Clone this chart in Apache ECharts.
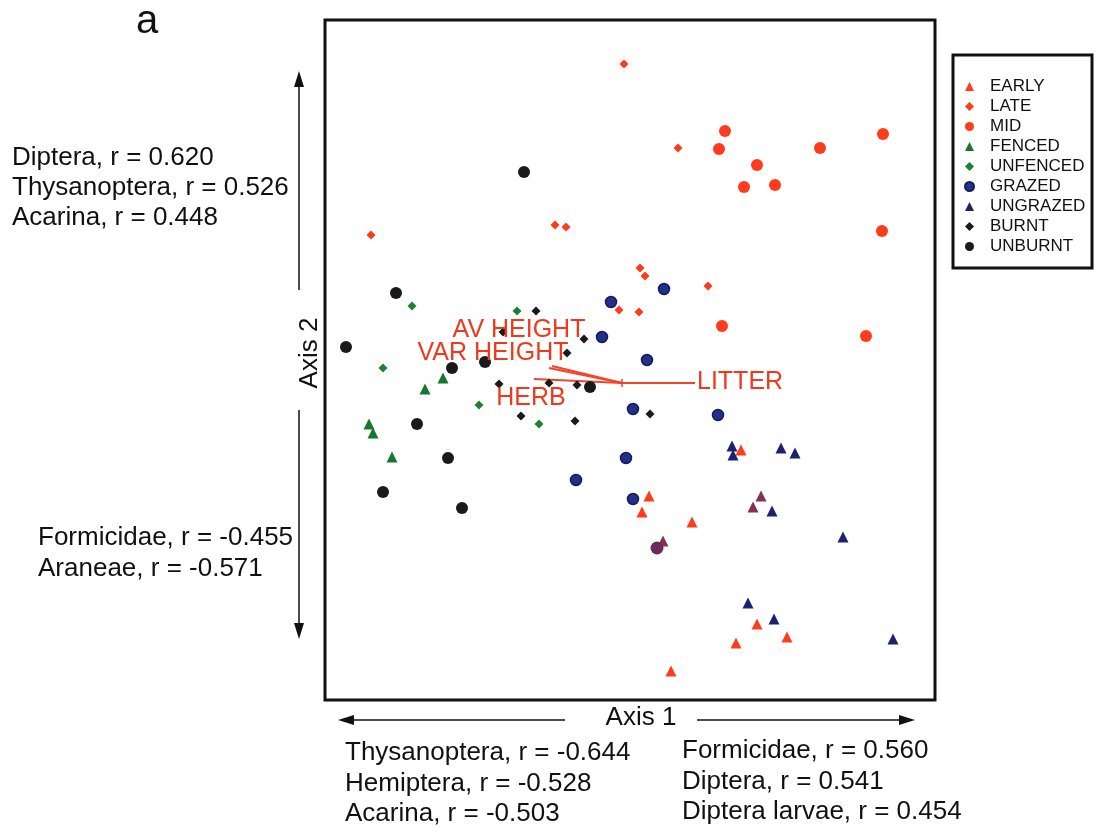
<!DOCTYPE html>
<html>
<head>
<meta charset="utf-8">
<script src="https://cdn.jsdelivr.net/npm/echarts@6/dist/echarts.min.js"></script>
<style>
html,body{margin:0;padding:0;background:#fff;}
#chart{width:1096px;height:833px;}
</style>
</head>
<body>
<div id="chart"></div>
<script>
// Ordination scores (Axis 1, Axis 2), arbitrary units
const EARLY = [[416,250],[324,204],[317,188],[367,178],[432,76],[462,63],[411,57],[346,29]];
const LATE = [[299,636],[353,552],[230,475],[241,473],[46,465],[315,432],[320,424],[383,414],[294,390],[314,388]];
const MID = [[400,569],[394,551],[432,535],[419,513],[450,515],[495,552],[558,566],[557,469],[397,374],[541,364]];
const FENCED = [[118,322],[100,311],[44,276],[48,267],[67,243]];
const UNFENCED = [[87,394],[192,389],[58,332],[154,295],[214,276]];
const GRAZED = [[286,398],[277,363],[339,411],[322,340],[308,291],[393,285],[301,242],[251,220],[308,201]];
const UNGRAZED = [[407,254],[408,245],[456,252],[470,247],[447,189],[518,163],[423,97],[449,81],[568,61]];
const BURNT = [[211,389],[178,368],[259,361],[242,347],[174,316],[224,317],[252,315],[325,286],[196,284],[250,279]];
const UNBURNT = [[199,528],[71,407],[21,353],[160,338],[127,332],[265,313],[92,276],[123,242],[58,208],[137,192]];
// overlapping (mixed colour) symbols
const OVERLAP_TRI = [[436,204],[428,193],[338,159]];
const OVERLAP_CIRC = [[332,152]];

// Environmental vectors (origin and tips)
const VEC_ORIGIN = [297,317];
const VECTORS = [
  {name:'LITTER', tip:[370,317]},
  {name:'AV HEIGHT', tip:[227,334]},
  {name:'VAR HEIGHT', tip:[224,332]},
  {name:'HERB', tip:[209,321]}
];
const VEC_LABELS = [
  {name:'AV HEIGHT', pos:[194,370]},
  {name:'VAR HEIGHT', pos:[168,347]},
  {name:'HERB', pos:[206,302]},
  {name:'LITTER', pos:[372,318]}
];
const ORIGIN_TICK = [[297,313],[297,321]];

const AXIS_X = {min:0, max:610};
const AXIS_Y = {min:0, max:680};

const LEFT_TOP_LABELS = ['Diptera, r = 0.620','Thysanoptera, r = 0.526','Acarina, r = 0.448'];
const LEFT_BOTTOM_LABELS = ['Formicidae, r = -0.455','Araneae, r = -0.571'];
const BOTTOM_LEFT_LABELS = ['Thysanoptera, r = -0.644','Hemiptera, r = -0.528','Acarina, r = -0.503'];
const BOTTOM_RIGHT_LABELS = ['Formicidae, r = 0.560','Diptera, r = 0.541','Diptera larvae, r = 0.454'];

const RED = '#ff3b1d';
const BLACK = '#1a1a1a';
const GREEN = '#17772a';
const FONT = '"Liberation Sans", Arial, Helvetica, sans-serif';

function sc(name, data, symbol, size, color, style) {
  return {
    name, type:'scatter', data, symbol, symbolSize:size,
    itemStyle:Object.assign({color, opacity:1}, style||{}), z:3,
    emphasis:{disabled:true}
  };
}

const series = [
  sc('EARLY', EARLY, 'triangle', 11, RED),
  sc('LATE', LATE, 'diamond', 9, RED),
  sc('MID', MID, 'circle', 12, RED),
  sc('FENCED', FENCED, 'triangle', 11, GREEN),
  sc('UNFENCED', UNFENCED, 'diamond', 9, '#1f8034'),
  sc('GRAZED', GRAZED, 'circle', 11, '#22308c', {borderColor:'#161b5c', borderWidth:1.5}),
  sc('UNGRAZED', UNGRAZED, 'triangle', 11, '#1b2270'),
  sc('BURNT', BURNT, 'diamond', 9, BLACK),
  sc('UNBURNT', UNBURNT, 'circle', 12, BLACK),
  sc('overlapTri', OVERLAP_TRI, 'triangle', 11, '#883050'),
  sc('overlapCirc', OVERLAP_CIRC, 'circle', 13, '#6a2c5a')
];

VECTORS.forEach(v => {
  series.push({
    name:'vec_'+v.name, type:'line', data:[VEC_ORIGIN, v.tip],
    symbol:'none', lineStyle:{color:'#f2442a', width:2}, z:2, silent:true
  });
});
series.push({
  name:'vec_tick', type:'line', data:ORIGIN_TICK, symbol:'none',
  lineStyle:{color:'#f2442a', width:1.5}, z:2, silent:true
});
const labelSeries = {
  name:'vecLabels', type:'scatter', symbolSize:0, z:4, silent:true,
  itemStyle:{opacity:1},
  data: VEC_LABELS.map(l => ({name:l.name, value:l.pos})),
  label:{show:true, formatter:'{b}', position:'inside', color:'#f0381c',
    fontFamily:FONT, fontSize:25, fontWeight:'normal'}
};
labelSeries.data[3].label = {position:'right', distance:0};
series.push(labelSeries);

const graphics = [];
graphics.push({type:'text', x:136, y:22, style:{text:'a', font:'40px '+FONT, fill:'#111', verticalAlign:'middle'}});
function addText(txt, x, y, align) {
  graphics.push({type:'text', x, y, style:{text:txt, font:'26px '+FONT, fill:'#111', align:align||'left', verticalAlign:'middle'}});
}
LEFT_TOP_LABELS.forEach((t,i)=>addText(t, 12, 158 + i*30));
LEFT_BOTTOM_LABELS.forEach((t,i)=>addText(t, 38, 538 + i*31));
BOTTOM_LEFT_LABELS.forEach((t,i)=>addText(t, 345, 753 + i*30.5));
BOTTOM_RIGHT_LABELS.forEach((t,i)=>addText(t, 682, 751 + i*30.5));
addText('Axis 1', 641, 718, 'center');
graphics.push({type:'text', x:310, y:353, rotation:Math.PI/2,
  style:{text:'Axis 2', font:'26px '+FONT, fill:'#111', align:'center', verticalAlign:'middle'}});

function line(x1,y1,x2,y2){graphics.push({type:'line', shape:{x1,y1,x2,y2}, style:{stroke:'#111', lineWidth:1.5}});}
function head(pts){graphics.push({type:'polygon', shape:{points:pts}, style:{fill:'#111'}});}
// vertical arrow
line(299, 84, 299, 290); head([[299,71],[294,87],[304,87]]);
line(299, 410, 299, 626); head([[299,639],[294,623],[304,623]]);
// horizontal arrow
line(352, 720, 565, 720); head([[338,720],[354,715],[354,725]]);
line(697, 720, 901, 720); head([[915,720],[899,715],[899,725]]);
// legend box
graphics.push({type:'rect', shape:{x:953, y:55, width:139, height:213}, style:{fill:'none', stroke:'#111', lineWidth:3}});

const chart = echarts.init(document.getElementById('chart'), null, {renderer:'canvas'});
chart.setOption({
  animation:false,
  backgroundColor:'#fff',
  grid:{left:325, top:20, width:610, height:680, show:true, borderColor:'#111', borderWidth:3, backgroundColor:'transparent'},
  xAxis:{type:'value', min:AXIS_X.min, max:AXIS_X.max, axisLine:{show:false}, axisTick:{show:false}, axisLabel:{show:false}, splitLine:{show:false}},
  yAxis:{type:'value', min:AXIS_Y.min, max:AXIS_Y.max, axisLine:{show:false}, axisTick:{show:false}, axisLabel:{show:false}, splitLine:{show:false}},
  legend:{
    data:['EARLY','LATE','MID','FENCED','UNFENCED','GRAZED','UNGRAZED','BURNT','UNBURNT'],
    orient:'vertical', left:964, top:78, padding:0, itemWidth:9, itemHeight:9, itemGap:3,
    selectedMode:false,
    textStyle:{fontFamily:FONT, fontSize:17, color:'#111', lineHeight:17, padding:[0,0,0,11]}
  },
  graphic:graphics,
  series
});
</script>
</body>
</html>
